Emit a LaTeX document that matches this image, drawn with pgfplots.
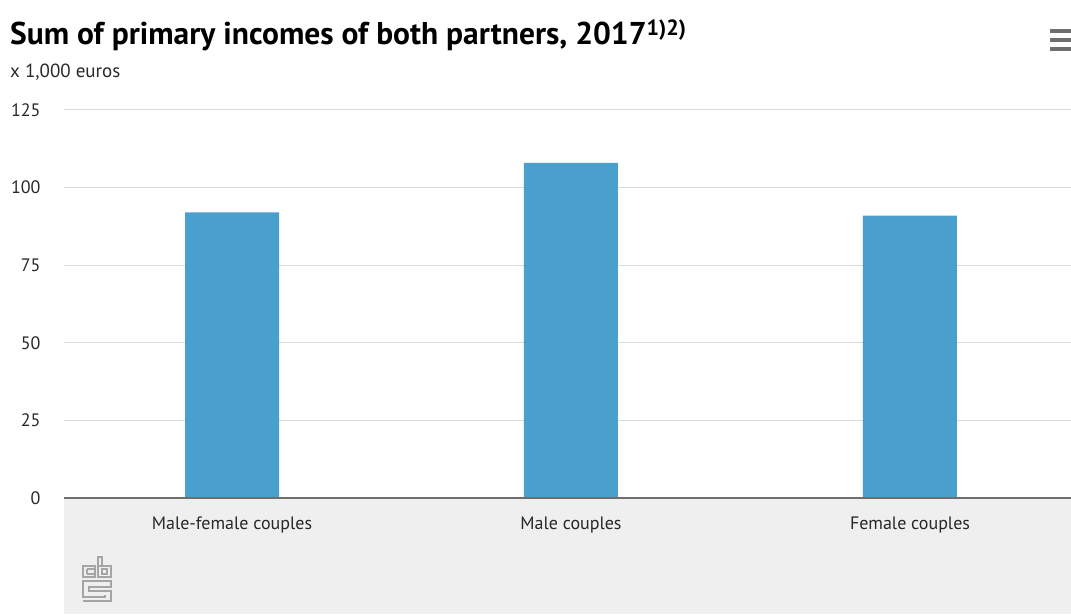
\documentclass[border=0pt]{standalone}
\usepackage{pgfplots}
\pgfplotsset{compat=1.18}
\usepackage{fontspec}
\setmainfont{PT Sans}
\definecolor{barblue}{RGB}{74,160,204}
\definecolor{gridgray}{RGB}{218,218,218}
\definecolor{bandgray}{RGB}{239,239,239}
\definecolor{axisgray}{RGB}{110,110,110}
\definecolor{textdark}{RGB}{40,40,40}
\definecolor{logogray}{RGB}{165,165,165}
\begin{document}
\begin{tikzpicture}
\path[use as bounding box] (-64pt,-116pt) rectangle (1007pt,498pt);
\fill[bandgray] (0pt,-116pt) rectangle (1007pt,0pt);
% cbs logo (decoration)
\begin{scope}[shift={(19pt,-103pt)},draw=logogray,line width=1.2pt]
\draw (0,0) -- (28pt,0) -- (28pt,10pt) -- (6pt,10pt) -- (6pt,14pt) -- (28pt,14pt) -- (28pt,20pt) -- (0,20pt) -- (0,4pt) -- (22pt,4pt) -- (22pt,6pt);
\draw (0,24pt) rectangle (12pt,35pt);
\draw (4pt,27pt) -- (12pt,27pt) (4pt,32pt) -- (12pt,32pt) (4pt,27pt) -- (4pt,32pt);
\draw (15pt,24pt) rectangle (28pt,35pt);
\draw (15pt,35pt) -- (15pt,44pt) -- (19pt,44pt) -- (19pt,35pt);
\draw (19pt,27pt) rectangle (24pt,32pt);
\end{scope}
% menu icon
\foreach \yy in {467,458,449}{\draw[line width=3.5pt,line cap=butt,axisgray] (986pt,\yy pt) -- (1007pt,\yy pt);}
\node[anchor=base west,font=\bfseries\fontsize{31.5}{33}\selectfont,text=black,inner sep=0pt] at (-54pt,453pt) {Sum of primary incomes of both partners, 2017\textsuperscript{1)2)}};
\node[anchor=base west,font=\fontsize{19}{21}\selectfont,text=textdark,inner sep=0pt] at (-54pt,420pt) {x 1,000 euros};
\begin{axis}[
  at={(0pt,0pt)}, anchor=south west,
  scale only axis, width=1007pt, height=388pt,
  xmin=-0.4956, xmax=2.475, ymin=0, ymax=125,
  ytick={0,25,50,75,100,125},
  xtick={0,1,2},
  xticklabels={Male-female couples,Male couples,Female couples},
  axis line style={draw=none},
  major tick length=0pt,
  ymajorgrids, grid style={gridgray,line width=1pt},
  yticklabel style={font=\fontsize{18}{20}\selectfont,text=textdark,anchor=east,xshift=-20pt},
  xticklabel style={font=\fontsize{18}{20}\selectfont,text=textdark,yshift=-15pt},
  /pgf/number format/assume math mode=true,
  ybar, bar width=94pt,
  clip=false,
]
\addplot[fill=barblue,draw=none] coordinates {(0,92) (1,108) (2,91)};
\draw[axisgray,line width=2pt] (rel axis cs:0,0) -- (rel axis cs:1,0);
\end{axis}
\end{tikzpicture}
\end{document}
